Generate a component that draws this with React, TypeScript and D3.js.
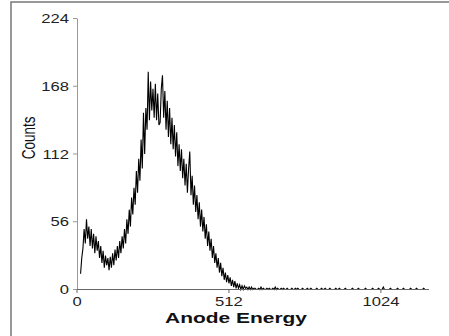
import React, { useEffect, useRef } from "react";
import * as d3 from "d3";

// channel width of each stored bin
const CHANNEL_STEP = 4;
const X_MAX = 1186;

// counts per bin (every 4 channels); null = below threshold
const counts: (number | null)[] = [
  null, null, null, 13, 26, 34, 50, 38, 58, 42,
  52, 36, 50, 34, 46, 30, 44, 32, 40, 26,
  36, 22, 32, 18, 28, 20, 26, 16, 27, 18,
  30, 20, 33, 24, 36, 26, 40, 30, 44, 34,
  50, 38, 58, 46, 66, 52, 76, 62, 84, 70,
  98, 80, 108, 90, 124, 100, 146, 112, 150, 132,
  180, 140, 172, 148, 166, 142, 170, 140, 162, 136,
  138, 166, 177, 142, 164, 132, 156, 126, 150, 120,
  142, 116, 136, 110, 130, 102, 120, 98, 116, 92,
  108, 86, 104, 80, 100, 114, 78, 94, 70, 86,
  64, 78, 58, 72, 52, 66, 48, 60, 42, 54,
  36, 48, 32, 42, 26, 36, 22, 30, 18, 26,
  14, 22, 11, 18, 8, 14, 6, 12, 5, 10,
  3, 8, 2, 7, 1, 5, 1, 4, 0, 3,
  0, 3, 1, 2, 0, 2, 0, 2, 0, 1,
  1, 0, 0, 1, 0, 2, 0, 1, 0, 0,
  1, 0, 1, 0, 0, 1, 0, 2, 0, 1,
  0, 0, 1, 0, 1, 0, 0, 1, 0, 0,
  0, 1, 0, 0, 1, 0, 1, 0, 0, 0,
  1, 0, 0, 0, 1, 0, 0, 1, 0, 0,
  0, 0, 1, 0, 0, 0, 1, 0, 0, 1,
  0, 0, 0, 1, 0, 0, 0, 0, 1, 0,
  0, 1, 0, 0, 0, 0, 1, 0, 0, 0,
  0, 0, 1, 0, 0, 0, 0, 1, 0, 0,
  0, 0, 0, 1, 0, 0, 0, 0, 0, 1,
  0, 0, 0, 0, 1, 0, 0, 0, 2, 0,
  0, 0, 0, 0, 1, 0, 0, 0, 0, 0,
  1, 0, 0, 0, 0, 1, 0, 0, 0, 0,
  0, 1, 0, 0, 0, 0, 1, 0, 0, 0,
  0, 0, 1, 0, 0, 0,
];

const yTicks = [0, 56, 112, 168, 224];
const xTicks = [0, 512, 1024];

const App = () => {
  const ref = useRef<SVGSVGElement>(null);

  useEffect(() => {
    const svg = d3.select(ref.current);
    svg.selectAll("*").remove();

    const x = d3.scaleLinear().domain([0, X_MAX]).range([77, 429]);
    const y = d3.scaleLinear().domain([0, 224]).range([289.5, 18.5]);
    const font = "'Liberation Sans', Arial, sans-serif";

    // frame around the plot
    svg
      .append("rect")
      .attr("x", 11)
      .attr("y", 2)
      .attr("width", 460)
      .attr("height", 360)
      .attr("fill", "none")
      .attr("stroke", "#777")
      .attr("stroke-width", 1.5);

    const line = d3
      .line<number | null>()
      .defined((d) => d !== null)
      .x((d, i) => x(i * CHANNEL_STEP))
      .y((d) => y(d as number));

    svg
      .append("path")
      .datum(counts)
      .attr("d", line)
      .attr("fill", "none")
      .attr("stroke", "#000")
      .attr("stroke-width", 1.1);

    // y axis
    svg
      .append("line")
      .attr("x1", 77.5)
      .attr("x2", 77.5)
      .attr("y1", y(224))
      .attr("y2", y(0))
      .attr("stroke", "#999");
    yTicks.forEach((t) => {
      svg
        .append("line")
        .attr("x1", 73)
        .attr("x2", 77)
        .attr("y1", y(t))
        .attr("y2", y(t))
        .attr("stroke", "#999");
      svg
        .append("text")
        .attr("transform", `translate(69,${y(t) + 4.5}) scale(1.33,1)`)
        .attr("text-anchor", "end")
        .style("font-family", font)
        .style("font-size", "12.5px")
        .attr("fill", "#222")
        .text(t);
    });

    // x axis
    svg
      .append("line")
      .attr("x1", x(0))
      .attr("x2", x(X_MAX))
      .attr("y1", 289.5)
      .attr("y2", 289.5)
      .attr("stroke", "#666");
    xTicks.forEach((t) => {
      svg
        .append("line")
        .attr("x1", x(t))
        .attr("x2", x(t))
        .attr("y1", 289.5)
        .attr("y2", 293)
        .attr("stroke", "#666");
      svg
        .append("text")
        .attr("transform", `translate(${x(t)},305.5) scale(1.33,1)`)
        .attr("text-anchor", "middle")
        .style("font-family", font)
        .style("font-size", "12.5px")
        .attr("fill", "#222")
        .text(t);
    });

    svg
      .append("text")
      .attr("transform", "translate(236,323) scale(1.36,1)")
      .attr("text-anchor", "middle")
      .style("font-family", font)
      .style("font-size", "15.4px")
      .style("font-weight", "bold")
      .attr("fill", "#111")
      .text("Anode Energy");

    svg
      .append("text")
      .attr("transform", "translate(34.5,138) rotate(-90) scale(1,1.4)")
      .attr("text-anchor", "middle")
      .style("font-family", font)
      .style("font-size", "13.5px")
      .attr("fill", "#111")
      .text("Counts");
  }, []);

  return (
    <div style={{ position: "absolute", left: 0, top: 0 }}>
      <svg ref={ref} width={449} height={336} style={{ display: "block", background: "#fff" }} />
    </div>
  );
};

export default App;
